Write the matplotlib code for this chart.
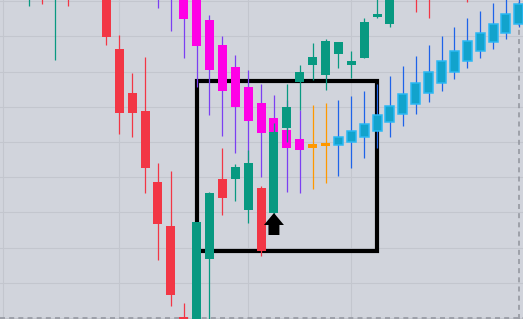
import numpy as np
import matplotlib.pyplot as plt
from matplotlib.patches import Rectangle, FancyArrow

# price candles (index, open, high, low, close)
main_idx = [0, 1, 2, 3, 6, 7, 8, 9, 10, 11, 12, 13, 14, 15, 16, 17, 18, 19,
            20, 21, 22, 23, 24, 25, 26, 27, 28, 30, 31, 34]
main_open = [325, 335, 330, 340, 330, 270, 226, 208, 137, 93, 2, -16, 60, 140, 140, 109, 131, 106,
             191, 237, 254, 244, 265, 254, 261, 302, 295, 330, 330, 335]
main_high = [345, 345, 350, 350, 340, 284, 246, 262, 156, 148, 16, 97, 127, 171, 155, 169, 133, 196,
             235, 254, 276, 280, 277, 268, 301, 325, 335, 340, 340, 345]
main_low = [313, 315, 259, 313, 274, 185, 182, 126, 59, 13, -30, -30, -10, 104, 118, 96, 63, 105,
            177, 209, 239, 229, 251, 241, 261, 301, 292, 307, 301, 317]
main_close = [335, 322, 345, 325, 282, 206, 206, 151, 95, 24, -20, 97, 126, 121, 152, 156, 68, 187,
              212, 247, 262, 278, 277, 258, 297, 305, 330, 320, 322, 325]

# overlay trend candles
trend_idx = list(range(10, 39))
trend_open = [340, 340, 330, 324, 299, 274, 252, 232, 216, 201, 189, 180, 175, 176,
              174, 177, 182, 188, 197, 205, 215, 226, 236, 247, 258, 268, 277, 286, 295]
trend_high = [350, 350, 340, 335, 304, 283, 264, 249, 235, 224, 219, 209, 214, 216,
              219, 223, 228, 235, 243, 253, 263, 274, 283, 292, 301, 308, 316, 322, 325]
trend_low = [311, 288, 261, 232, 204, 183, 166, 159, 142, 144, 127, 126, 130, 136,
             143, 151, 161, 171, 182, 193, 205, 217, 228, 240, 251, 261, 270, 280, 292]
trend_close = [330, 325, 300, 273, 249, 228, 212, 198, 186, 180, 171, 169, 171, 173,
               182, 188, 195, 204, 213, 225, 236, 247, 258, 268, 278, 286, 295, 305, 315]
trend_state = ['down'] * 12 + ['flat'] * 2 + ['up'] * 15

# pattern box and signal arrow
box_x = (13, 27)
box_y = (68, 238)
signal_idx = 19
signal_low = 106

BG = '#d1d4dc'
GRID = '#c3c6ce'
UP = '#089981'
DOWN = '#f23645'
STATE_BODY = {'down': '#ff00e6', 'flat': '#ff9800', 'up': '#12a3cc'}
STATE_WICK = {'down': '#7b3ff2', 'flat': '#ff9800', 'up': '#1e63e9'}
STATE_EDGE = {'down': '#ff00e6', 'flat': '#ff9800', 'up': '#2ab8f4'}

fig = plt.figure(figsize=(5.23, 3.19), dpi=100)
fig.patch.set_facecolor(BG)
ax = fig.add_axes([0, 0, 1, 1])
ax.set_facecolor(BG)
ax.set_xlim(-2.25, 38.32)
ax.set_ylim(0, 319)
ax.axis('off')

# grid
for v in np.arange(1, 320, 35.2):
    ax.axhline(v, color=GRID, lw=0.8, zorder=0)
for t in [-2, 7, 17, 25]:
    ax.axvline(t, color=GRID, lw=0.8, zorder=0)
ax.axhline(0.6, color='#9598a1', lw=1.2, ls=(0, (3, 2.5)), zorder=1)
ax.axvline(38, color='#9598a1', lw=1.2, ls=(0, (3, 2.5)), zorder=1)

# box (sits under the candles)
ax.add_patch(Rectangle((box_x[0], box_y[0]), box_x[1] - box_x[0], box_y[1] - box_y[0],
                       fill=False, edgecolor='black', lw=3, zorder=1.5))

w = 0.7

# trend candles
for i, o, h, l, c, s in zip(trend_idx, trend_open, trend_high, trend_low, trend_close, trend_state):
    ax.vlines(i, l, h, color=STATE_WICK[s], lw=0.9, zorder=2)
    lo, hi = min(o, c), max(o, c)
    ax.add_patch(Rectangle((i - w / 2, lo), w, hi - lo, facecolor=STATE_BODY[s],
                           edgecolor=STATE_EDGE[s], lw=1.1 if s == 'up' else 0, zorder=3))

# price candles
for i, o, h, l, c in zip(main_idx, main_open, main_high, main_low, main_close):
    col = UP if c >= o else DOWN
    ax.vlines(i, l, h, color=col, lw=0.9, zorder=4)
    lo, hi = min(o, c), max(o, c)
    ax.add_patch(Rectangle((i - w / 2, lo), w, hi - lo, facecolor=col, lw=0, zorder=5))

# arrow
ax.add_patch(FancyArrow(signal_idx, signal_low - 22, 0, 22, width=0.85, head_width=1.55,
                        head_length=12, length_includes_head=True, color='black', lw=0, zorder=7))

fig.savefig('out.png', dpi=100, facecolor=BG)
